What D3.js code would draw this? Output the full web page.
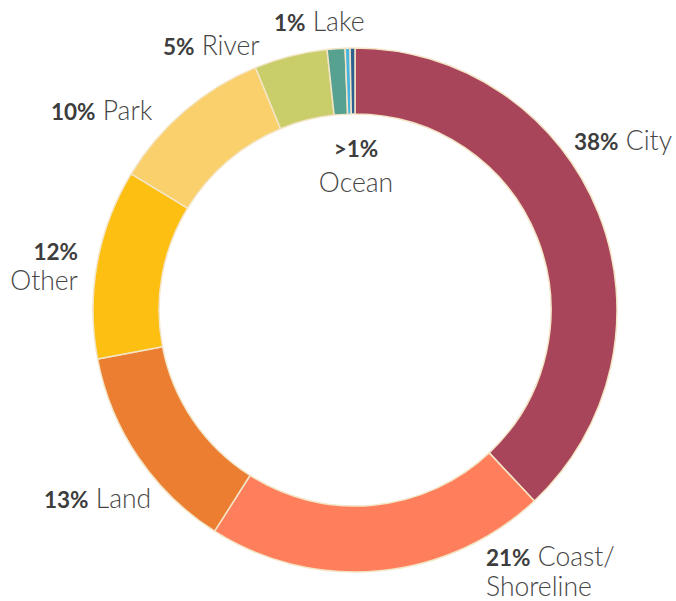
<!DOCTYPE html>
<html>
<head>
<meta charset="utf-8">
<script src="https://cdn.jsdelivr.net/npm/d3@7"></script>
<style>
  html, body { margin: 0; padding: 0; background: #fff; }
  svg { display: block; }
</style>
</head>
<body>
<svg id="chart" width="676" height="601"></svg>
<script>
const categories = ["City", "Coast/Shoreline", "Land", "Other", "Park", "River", "Lake", "Ocean", "Unlabeled"];
const values = [38, 21, 13, 11.7, 10.1, 4.5, 1.1, 0.3, 0.3];
const percentLabels = ["38%", "21%", "13%", "12%", "10%", "5%", "1%", ">1%", ""];
const colors = ["#A8455A", "#FF7E5B", "#EC7E32", "#FDBF11", "#FAD06C", "#C9CD6A", "#56A190", "#48B5E0", "#2E5F8F"];

const data = categories.map((c, i) => ({ name: c, value: values[i], pct: percentLabels[i], color: colors[i] }));

const svg = d3.select("#chart");
const cx = 355, cy = 310, outerR = 262, innerR = 196;

const pie = d3.pie().value(d => d.value).sort(null);
const arc = d3.arc().innerRadius(innerR).outerRadius(outerR);

const g = svg.append("g").attr("transform", `translate(${cx},${cy})`);
g.selectAll("path")
  .data(pie(data))
  .join("path")
  .attr("d", arc)
  .attr("fill", d => d.data.color)
  .attr("stroke", "#F3E5C6")
  .attr("stroke-width", 1.5)
  .attr("stroke-linejoin", "round");

// each line: list of parts (0 = percent, otherwise name text), x, y, anchor
const labelLayout = [
  { i: 0, x: 574, y: 150, anchor: "start", lines: [[0, "City"]] },
  { i: 1, x: 486, y: 566, anchor: "start", lines: [[0, "Coast/"], ["Shoreline"]], lh: 30 },
  { i: 2, x: 44, y: 508, anchor: "start", lines: [[0, "Land"]] },
  { i: 3, x: 78, y: 260, anchor: "end", lines: [[0], ["Other"]], lh: 30 },
  { i: 4, x: 51, y: 120, anchor: "start", lines: [[0, "Park"]] },
  { i: 5, x: 163, y: 55, anchor: "start", lines: [[0, "River"]] },
  { i: 6, x: 274, y: 31, anchor: "start", lines: [[0, "Lake"]] },
  { i: 7, x: 356, y: 157, anchor: "middle", lines: [[0], ["Ocean"]], lh: 35 }
];

const fontFamily = "Lato, 'Open Sans', sans-serif";
const pctSize = 22.5, nameSize = 26.5;

labelLayout.forEach(L => {
  const d = data[L.i];
  L.lines.forEach((line, li) => {
    const t = svg.append("text")
      .attr("x", L.x).attr("y", L.y + li * (L.lh || 0))
      .attr("text-anchor", L.anchor)
      .attr("font-family", fontFamily);
    line.forEach((part, pi) => {
      const ts = t.append("tspan");
      if (part === 0) {
        ts.text(d.pct).attr("font-weight", 700).attr("font-size", pctSize).attr("fill", "#3d3d3d");
      } else {
        ts.text((pi > 0 ? "\u00a0" : "") + part)
          .attr("font-size", nameSize).attr("font-weight", 300).attr("fill", "#454545");
      }
    });
  });
});
</script>
</body>
</html>
